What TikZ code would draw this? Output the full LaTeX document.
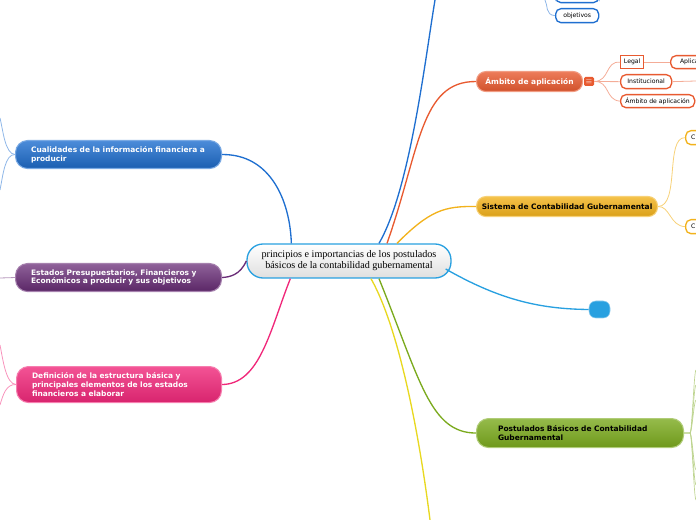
\documentclass[tikz,border=0pt]{standalone}
\usepackage{fontspec}
\setmainfont{DejaVu Sans}
\newfontfamily\serifc{Liberation Serif}
\begin{document}
\begin{tikzpicture}[x=0.75pt,y=-0.75pt,
 main/.style={rounded corners=9pt,draw=#1!60!white,line width=0.8pt,text=white,font=\bfseries\fontsize{5.6}{6.6}\selectfont,align=left,anchor=north west,inner ysep=0pt,inner xsep=11pt},
 sub/.style={rounded corners=4pt,draw=#1,line width=1pt,fill=white,font=\fontsize{4.6}{5.5}\selectfont,inner sep=0pt,anchor=north west},
 conn/.style={line width=1pt}]
\useasboundingbox (0,0) rectangle (696,520);
\definecolor{cblue}{HTML}{1F6FD0}
\definecolor{cpurp}{HTML}{6A2D78}
\definecolor{cpink}{HTML}{F0287A}
\definecolor{corng}{HTML}{E85A30}
\definecolor{cyell}{HTML}{F2B21C}
\definecolor{cgreen}{HTML}{7BAA1E}
\definecolor{csky}{HTML}{28A0E0}
\definecolor{clyel}{HTML}{E8D820}
% center
\node[draw=csky,line width=1pt,rounded corners=12pt,top color=white,bottom color=gray!25,minimum width=204*0.75pt,minimum height=34*0.75pt,align=center,inner sep=0pt,font=\serifc\fontsize{7.6}{8.2}\selectfont] (c) at (349,261) {principios e importancias de los postulados\\ básicos de la contabilidad gubernamental};
% main branches
\node[main=cblue,top color=cblue!80!white,bottom color=cblue!85!black,minimum width=206*0.75pt,minimum height=28*0.75pt,text width=175*0.75pt] (q) at (15,140) {Cualidades de la información financiera a\\producir};
\node[main=cpurp,top color=cpurp!75!white,bottom color=cpurp!85!black,minimum width=206*0.75pt,minimum height=28*0.75pt,text width=175*0.75pt] (e) at (15,263) {Estados Presupuestarios, Financieros y\\Económicos a producir y sus objetivos};
\node[main=cpink,top color=cpink!80!white,bottom color=cpink!90!black,minimum width=205*0.75pt,minimum height=36*0.75pt,text width=174*0.75pt] (d) at (16,366) {Definición de la estructura básica y\\principales elementos de los estados\\financieros a elaborar};
\node[main=corng,top color=corng!80!white,bottom color=corng!90!black,minimum width=106*0.75pt,minimum height=20*0.75pt,align=center,rounded corners=7pt,inner xsep=0pt] (a) at (476,71) {Ámbito de aplicación};
\node[fill=corng,rounded corners=1pt,minimum width=10*0.75pt,minimum height=9*0.75pt,inner sep=0pt,text=white,font=\tiny] (ai) at (589,81.5) {$\equiv$};
\node[main=cyell,top color=cyell!80!white,bottom color=cyell!90!black,text=black,minimum width=181*0.75pt,minimum height=20*0.75pt,align=center,rounded corners=7pt,inner xsep=0pt] (s) at (476,196) {Sistema de Contabilidad Gubernamental};
\node[main=cgreen,top color=cgreen!80!white,bottom color=cgreen!90!black,text=black,minimum width=207*0.75pt,minimum height=29*0.75pt,text width=164*0.75pt,inner xsep=16pt] (p) at (476,418) {Postulados Básicos de Contabilidad\\Gubernamental};
\node[fill=csky,draw=csky!50!white,rounded corners=5pt,minimum width=21*0.75pt,minimum height=17*0.75pt,inner sep=0pt] (b) at (599.5,309.5) {};
% sub nodes
\node[sub=corng,rounded corners=0pt,minimum width=23*0.75pt,minimum height=13*0.75pt] (lg) at (620,55) {Legal};
\node[sub=corng,minimum width=40*0.75pt,minimum height=13*0.75pt,align=left,text width=40*0.75pt] (ap) at (670,55) {\hspace*{7pt}Aplica};
\node[sub=corng,minimum width=51*0.75pt,minimum height=14*0.75pt] (in) at (620,74) {Institucional};
\node[sub=corng,minimum width=74*0.75pt,minimum height=13*0.75pt] (am) at (620,94) {Ámbito de aplicación};
\node[sub=cblue,minimum width=43*0.75pt,minimum height=14*0.75pt] (ob) at (555,8) {objetivos};
\node[sub=cblue,minimum width=43*0.75pt,minimum height=10*0.75pt] (ob0) at (555,-8) {};
\node[sub=cyell,minimum width=30*0.75pt,minimum height=14*0.75pt,align=left,text width=30*0.75pt] (s1) at (685,130) {\hspace*{4pt}C};
\node[sub=cyell,minimum width=30*0.75pt,minimum height=14*0.75pt,align=left,text width=30*0.75pt] (s2) at (685,219) {\hspace*{4pt}C};
% coordinates
\coordinate (top) at (435,0);
\coordinate (bot) at (430,520);
\coordinate (pr) at (690,433);
% connectors
\draw[conn,cblue] (c.north west)++(45,0) .. controls (290,200) and (270,154) .. (q.east);
\draw[conn,cblue] (c.north)++(30,0) .. controls (410,190) and (425,60) .. (top);
\draw[conn,corng] (c.north)++(38,0) .. controls (420,150) and (420,81) .. (a.west);
\draw[conn,cyell] (c.north)++(48,0) .. controls (430,210) and (445,206) .. (s.west);
\draw[conn,csky] (c.east)++(-6,8) .. controls (500,300) and (540,309) .. (b.west);
\draw[conn,cgreen] (c.south)++(30,0) .. controls (420,380) and (430,433) .. (p.west);
\draw[conn,clyel] (c.south)++(22,0) .. controls (400,330) and (420,440) .. (bot);
\draw[conn,cpink] (c.south west)++(44,0) .. controls (270,330) and (260,384) .. (d.east);
\draw[conn,cpurp] (c.west) .. controls (240,275) and (230,277) .. (e.east);
% left stubs
\draw[cblue!50,line width=0.6pt] (q.west) .. controls (5,154) and (3,130) .. (0,118);
\draw[cblue!50,line width=0.6pt] (q.west) .. controls (5,154) and (3,175) .. (0,190);
\draw[cpurp!50,line width=0.6pt] (e.west) -- (0,278);
\draw[cpink!50,line width=0.6pt] (d.west) .. controls (6,384) and (3,360) .. (0,345);
\draw[cpink!50,line width=0.6pt] (d.west) .. controls (6,384) and (3,395) .. (0,405);
% sub connectors
\draw[cblue!50,line width=0.6pt] (ob.west) .. controls (545,15) and (548,5) .. (545,0);
\draw[corng!50,line width=0.6pt] (ai.east) .. controls (610,81) and (605,61) .. (lg.west);
\draw[corng!50,line width=0.6pt] (ai.east) -- (in.west);
\draw[corng!50,line width=0.6pt] (ai.east) .. controls (610,81) and (605,100) .. (am.west);
\draw[corng!50,line width=0.6pt] (lg.east) -- (ap.west);
\draw[corng!50,line width=0.6pt] (in.east) -- (696,81);
\draw[corng!50,line width=0.6pt] (am.east) -- (696,100);
\draw[cyell!60,line width=0.6pt] (s.east) .. controls (680,206) and (665,137) .. (s1.west);
\draw[cyell!60,line width=0.6pt] (s.east) .. controls (670,206) and (670,226) .. (s2.west);
\draw[cgreen!60,line width=1pt] (p.east) -- (pr);
\foreach \yy in {370,385,400,470,485,500}
  \draw[cgreen!50,line width=0.5pt] (pr) .. controls (692,433) and (694,\yy) .. (696,\yy);
\end{tikzpicture}
\end{document}
